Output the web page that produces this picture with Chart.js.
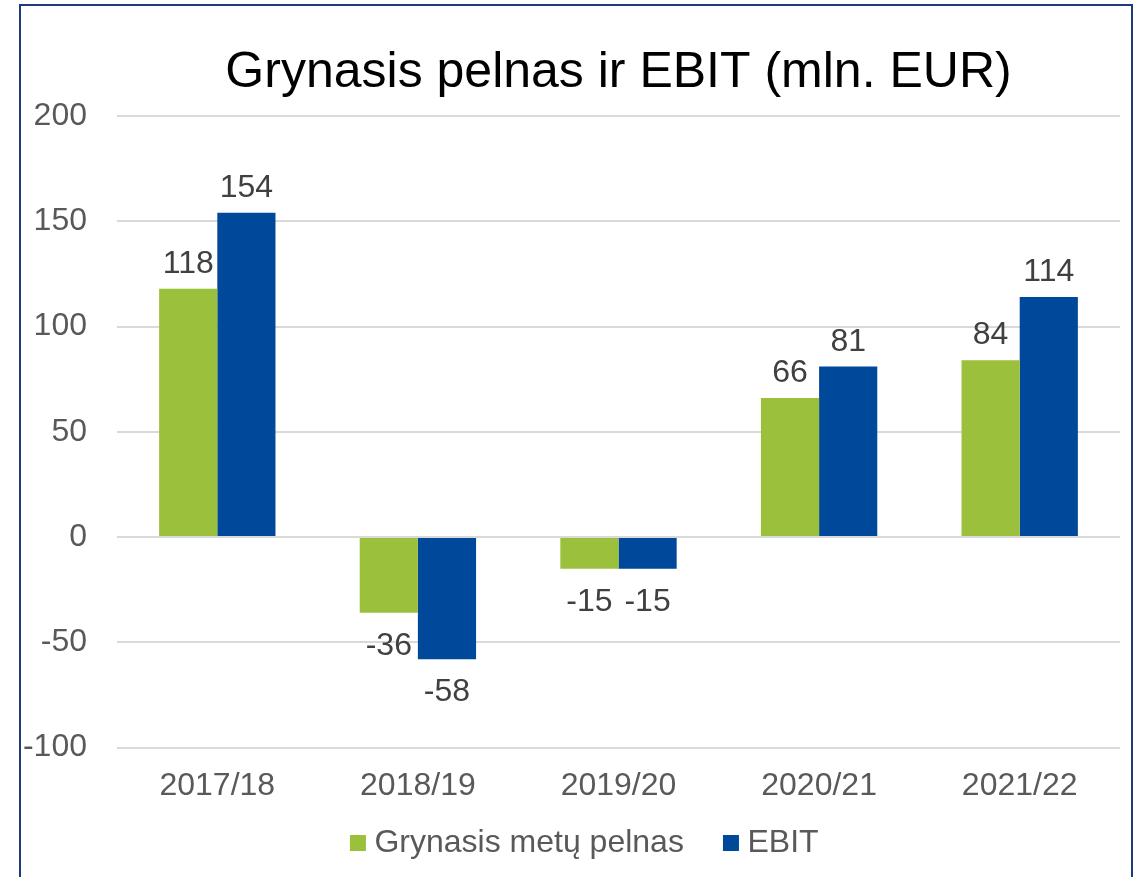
<!DOCTYPE html>
<html lang="lt">
<head>
  <meta charset="UTF-8" />
  <title>Grynasis pelnas ir EBIT</title>
  <script src="https://cdn.jsdelivr.net/npm/chart.js@4.4.4/dist/chart.umd.min.js"></script>
  <style>
    * { box-sizing: border-box; margin: 0; padding: 0; }
    body { width: 1140px; height: 877px; background: #fff; overflow: hidden; position: relative; font-family: "Liberation Sans", Arial, sans-serif; }
    .frame { position: absolute; left: 19px; top: 4px; width: 1114px; height: 900px; border: 2px solid #1f3a7a; }
    .wrap { position: absolute; left: 0; top: 0; width: 1140px; height: 877px; }
  </style>
</head>
<body>
  <div class="frame"></div>
  <div class="wrap"><canvas id="chart"></canvas></div>

  <script>
    const years = ['2017/18', '2018/19', '2019/20', '2020/21', '2021/22']
    const netProfit = [118, -36, -15, 66, 84]
    const ebit = [154, -58, -15, 81, 114]
    const yTicks = [200, 150, 100, 50, 0, -50, -100]
    const title = 'Grynasis pelnas ir EBIT (mln. EUR)'

    const font = '"Liberation Sans", Arial, sans-serif'
    Chart.defaults.font.family = font
    Chart.defaults.color = '#595959'

    // title centred over the plot area, value labels on the bars
    const decorations = {
      id: 'decorations',
      afterLayout(chart) {
        // legend sits a bit right of the canvas centre in the original
        chart.legend.left += 28
        chart.legend.right += 28
      },
      afterDraw(chart) {
        const {ctx, chartArea} = chart
        ctx.save()
        ctx.font = '50px ' + font
        ctx.fillStyle = '#000'
        ctx.textAlign = 'center'
        ctx.textBaseline = 'alphabetic'
        ctx.fillText(title, (chartArea.left + chartArea.right) / 2, 87)

        ctx.font = '32px ' + font
        ctx.fillStyle = '#404040'
        chart.data.datasets.forEach((ds, i) => {
          chart.getDatasetMeta(i).data.forEach((bar, j) => {
            const v = ds.data[j]
            const y = v >= 0 ? bar.y - 16 : bar.y + 42
            ctx.fillText(String(v), bar.x, y)
          })
        })
        ctx.restore()
      },
    }

    new Chart(document.getElementById('chart'), {
      type: 'bar',
      data: {
        labels: years,
        datasets: [
          { label: 'Grynasis metų pelnas', data: netProfit, backgroundColor: '#9bc13c', categoryPercentage: 0.58, barPercentage: 1 },
          { label: 'EBIT', data: ebit, backgroundColor: '#004899', categoryPercentage: 0.58, barPercentage: 1 },
        ],
      },
      options: {
        responsive: true,
        maintainAspectRatio: false,
        animation: false,
        layout: { padding: { left: 0, right: 20, top: 116, bottom: 8 } },
        scales: {
          x: {
            grid: { display: false },
            border: { display: false },
            ticks: { font: { size: 32 }, color: '#595959', padding: 11 },
          },
          y: {
            min: -100,
            max: 200,
            afterBuildTicks: (axis) => { axis.ticks = yTicks.map((v) => ({ value: v })) },
            afterFit: (axis) => { axis.width = 117 },
            grid: { color: '#d9d9d9', lineWidth: 2, drawTicks: false },
            border: { display: false },
            ticks: { font: { size: 32 }, color: '#595959', padding: 30 },
          },
        },
        plugins: {
          title: { display: false },
          legend: {
            position: 'bottom',
            labels: {
              usePointStyle: true,
              pointStyle: 'rect',
              boxWidth: 1,
              boxHeight: 16,
              padding: 11,
              font: { size: 32 },
              color: '#595959',
              generateLabels: (chart) => Chart.defaults.plugins.legend.labels.generateLabels(chart)
                .map((item, i) => ({ ...item, pointStyle: 'rect', text: i === 0 ? item.text + '    ' : item.text })),
            },
          },
          tooltip: { enabled: false },
        },
      },
      plugins: [decorations],
    })
  </script>
</body>
</html>
